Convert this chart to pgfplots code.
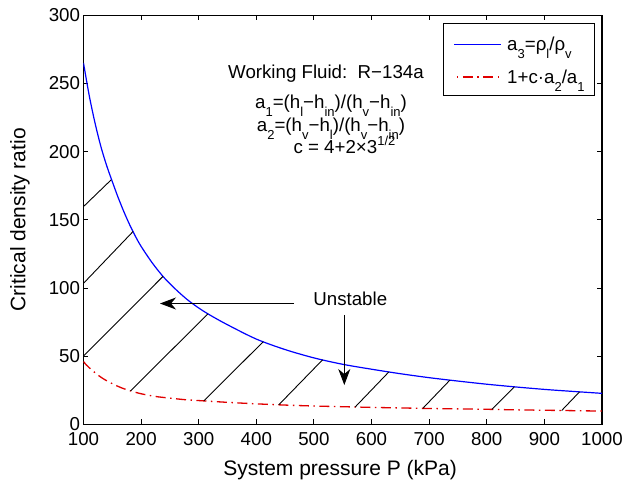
\documentclass[border=0pt]{standalone}
\usepackage{fontspec}
\setmainfont{Liberation Sans}
\usepackage{pgfplots}
\pgfplotsset{compat=1.18}
\usetikzlibrary{arrows.meta}
\newcommand{\sub}[1]{\raisebox{-0.42em}{\fontsize{13}{13}\selectfont #1}}
\newcommand{\super}[1]{\raisebox{0.42em}{\fontsize{13}{13}\selectfont #1}}
\definecolor{mred}{RGB}{225,0,0}
\definecolor{mblue}{RGB}{0,0,255}
\begin{document}
\begin{tikzpicture}[font=\fontsize{18.7}{22}\selectfont]
\path[use as bounding box] (-83.5pt,-56.7pt) rectangle (549.5pt,424.3pt);
\begin{axis}[
  scale only axis, width=518.5pt, height=409pt,
  xmin=100, xmax=1000, ymin=0, ymax=300,
  xtick={100,200,...,1000}, ytick={0,50,...,300},
  tick align=inside, major tick length=5pt,
  tick style={black, line width=0.9pt},
  axis line style={line width=1.1pt},
  /pgf/number format/assume math mode=true,
  /pgf/number format/1000 sep={},
  xticklabel style={yshift=-4.5pt},
  xlabel={System pressure P (kPa)},
  ylabel={Critical density ratio},
  xlabel style={at={(axis description cs:0.495,-0.0866)}, anchor=north, inner sep=0pt, font=\fontsize{21}{24}\selectfont},
  ylabel style={at={(axis description cs:-0.1225,0.5)}, anchor=center, inner sep=0pt, font=\fontsize{21}{24}\selectfont},
  legend style={at={(axis description cs:1,1)}, anchor=north east, xshift=-7pt, yshift=-8pt,
    line width=0.8pt, inner xsep=10pt, inner ysep=6.7pt, row sep=8.3pt, column sep=5pt,
    nodes={inner sep=0pt, text height=20pt, text depth=5pt}, cells={anchor=west},
    font=\fontsize{18.7}{22}\selectfont},
]
\addplot[color=mblue, line width=1.2pt, no marks, smooth, forget plot] coordinates {
(100,265) (110,241) (120,221) (130,204) (140,190) (150,178) (160,166.5) (170,156)
(180,146.5) (190,138) (200,130.5) (220,118) (240,107.5) (260,99) (280,91.5)
(300,85.3) (320,80) (350,73) (400,62.5) (450,54.8) (500,48.7) (550,44) (600,40.4)
(650,37.1) (700,34.2) (750,31.7) (800,29.4) (850,27.4) (900,25.6) (950,24.1) (1000,22.7)};
\addplot[color=mred, line width=1.3pt, no marks, smooth, forget plot, dash pattern=on 10pt off 4.5pt on 1.5pt off 4.5pt] coordinates {
(100,46) (105,43.5) (110,41.5) (120,37.8) (130,34.6) (140,32) (150,29.8) (160,27.8)
(170,26.1) (180,24.7) (200,22.4) (225,20.4) (250,19.2) (275,18.1) (300,17.4) (350,16.1)
(400,15) (450,14.1) (500,13.4) (550,12.9) (600,12.4) (650,12) (700,11.6) (750,11.3)
(800,11) (850,10.6) (900,10.3) (950,10) (1000,9.7)};
\addlegendimage{legend image code/.code={\draw[draw=mblue, line width=1.2pt] (0pt,-1.6pt) -- (47pt,-1.6pt);}}
\addlegendentry{a\sub{3}=ρ\sub{l}/ρ\sub{v}}
\addlegendimage{legend image code/.code={\draw[draw=mred, line width=1.6pt, dash pattern=on 10pt off 4.5pt on 1.5pt off 4.5pt, dash phase=12pt] (0pt,-1.1pt) -- (47pt,-1.1pt);}}
\addlegendentry{1+c·a\sub{2}/a\sub{1}}
\addplot[black, line width=0.9pt, forget plot] coordinates {(100,159.7) (148,179.3)};
\addplot[black, line width=0.9pt, forget plot] coordinates {(100,103.4) (186,141.4)};
\addplot[black, line width=0.9pt, forget plot] coordinates {(100,50.1) (238,108.5)};
\addplot[black, line width=0.9pt, forget plot] coordinates {(181.6,24.5) (316,81)};
\addplot[black, line width=0.9pt, forget plot] coordinates {(309,17.2) (412,60.6)};
\addplot[black, line width=0.9pt, forget plot] coordinates {(439,14.3) (515,47.3)};
\addplot[black, line width=0.9pt, forget plot] coordinates {(571.6,12.7) (630,38.4)};
\addplot[black, line width=0.9pt, forget plot] coordinates {(689,11.7) (736,32.4)};
\addplot[black, line width=0.9pt, forget plot] coordinates {(809,11) (848,27.5)};
\addplot[black, line width=0.9pt, forget plot] coordinates {(930,10.1) (961,23.8)};
\node[anchor=base] at (axis cs:520.9,253.8) {Working Fluid:\ \ R−134a};
\node[anchor=base] at (axis cs:529.6,231.8) {a\sub{1}=(h\sub{l}−h\sub{in})/(h\sub{v}−h\sub{in})};
\node[anchor=base] at (axis cs:529.6,214.6) {a\sub{2}=(h\sub{v}−h\sub{l})/(h\sub{v}−h\sub{in})};
\node[anchor=base] at (axis cs:553,198.8) {c = 4+2×3\super{1/2}};
\node[anchor=base] at (axis cs:563.1,87.5) {Unstable};
\draw[line width=1pt, -{Stealth[length=16pt,width=12pt,inset=5pt]}] (axis cs:465.4,88.6) -- (axis cs:232.8,88.6);
\draw[line width=1pt, -{Stealth[length=16pt,width=12pt,inset=5pt]}] (axis cs:552.7,80.2) -- (axis cs:552.7,28.8);
\end{axis}
\end{tikzpicture}
\end{document}
